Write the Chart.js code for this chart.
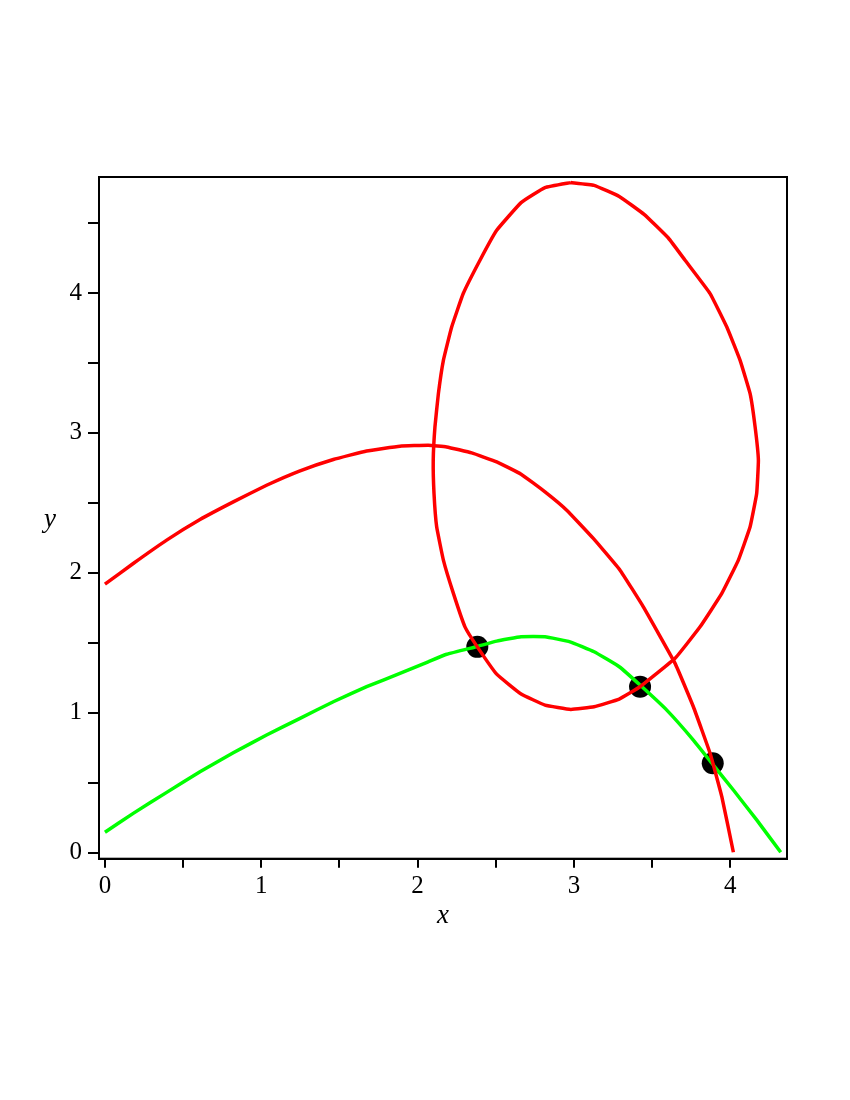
<!DOCTYPE html>
<html>
<head>
<meta charset="utf-8">
<script src="https://cdn.jsdelivr.net/npm/chart.js@4.4.1/dist/chart.umd.min.js"></script>
<style>
  html, body { margin: 0; padding: 0; background: #fff; }
</style>
</head>
<body>
<canvas id="myChart" width="850" height="1100"></canvas>
<script>
// open red curve
var redArcX = [0, 0.181, 0.395, 0.608, 0.821, 1.034, 1.248, 1.461, 1.674, 1.887, 2.068, 2.186, 2.346, 2.506, 2.662, 2.815, 2.954, 3.124, 3.295, 3.444, 3.647, 3.764, 3.871, 3.946, 4.02];
var redArcY = [1.919, 2.067, 2.234, 2.381, 2.507, 2.626, 2.729, 2.81, 2.871, 2.905, 2.912, 2.9, 2.857, 2.793, 2.705, 2.579, 2.448, 2.246, 2.019, 1.757, 1.353, 1.043, 0.71, 0.4, 0.003];

// closed red loop (clockwise from the top)
var loopX = [2.98, 3.129, 3.29, 3.449, 3.604, 3.711, 3.871, 3.978, 4.063, 4.127, 4.159, 4.18, 4.169, 4.127, 4.052, 3.946, 3.807, 3.647, 3.423, 3.29, 3.129, 2.98, 2.815, 2.662, 2.506, 2.382, 2.303, 2.229, 2.165, 2.122, 2.105, 2.1, 2.111, 2.133, 2.165, 2.218, 2.292, 2.399, 2.506, 2.662, 2.815, 2.98];
var loopY = [4.789, 4.769, 4.69, 4.562, 4.393, 4.234, 3.996, 3.757, 3.519, 3.281, 3.043, 2.805, 2.567, 2.329, 2.091, 1.853, 1.614, 1.389, 1.186, 1.098, 1.043, 1.024, 1.055, 1.134, 1.276, 1.471, 1.614, 1.853, 2.091, 2.329, 2.567, 2.805, 3.043, 3.281, 3.519, 3.757, 3.996, 4.234, 4.448, 4.646, 4.753, 4.789];

// green curve
var greenX = [0, 0.181, 0.395, 0.608, 0.821, 1.034, 1.248, 1.461, 1.674, 1.887, 2.068, 2.186, 2.382, 2.506, 2.662, 2.815, 2.975, 3.129, 3.29, 3.423, 3.594, 3.764, 3.892, 4.02, 4.169, 4.323];
var greenY = [0.146, 0.281, 0.431, 0.579, 0.714, 0.841, 0.96, 1.079, 1.186, 1.281, 1.364, 1.418, 1.474, 1.512, 1.543, 1.543, 1.507, 1.436, 1.329, 1.198, 1.019, 0.805, 0.626, 0.448, 0.234, 0.003];

// intersection points
var dotX = [2.382, 3.423, 3.888];
var dotY = [1.471, 1.186, 0.639];

var xTickLabels = ['0', '1', '2', '3', '4'];
var yTickLabels = ['0', '1', '2', '3', '4'];

function pts(xs, ys) {
    return xs.map(function (x, i) { return { x: x, y: ys[i] }; });
}

var serif = "'Liberation Serif', 'Times New Roman', serif";

var frame = {
    id: 'frame',
    afterDraw: function (chart) {
        var a = chart.chartArea, c = chart.ctx;
        c.save();
        c.strokeStyle = '#000';
        c.lineWidth = 2;
        c.strokeRect(a.left, a.top, a.right - a.left, a.bottom - a.top);
        // upright y axis label
        c.fillStyle = '#000';
        c.font = 'italic 27px ' + serif;
        c.textAlign = 'center';
        c.textBaseline = 'alphabetic';
        c.fillText('y', 50, 527);
        c.restore();
    }
};

function curve(points, color) {
    return {
        data: points,
        showLine: true,
        borderColor: color,
        borderWidth: 3.5,
        pointRadius: 0,
        pointHoverRadius: 0,
        tension: 0.1
    };
}

var ctx = document.getElementById('myChart').getContext('2d');
var myChart = new Chart(ctx, {
    type: 'scatter',
    data: {
        datasets: [
            curve(pts(redArcX, redArcY), '#ff0000'),
            curve(pts(loopX, loopY), '#ff0000'),
            curve(pts(greenX, greenY), '#00ff00'),
            {
                data: pts(dotX, dotY),
                showLine: false,
                backgroundColor: '#000',
                borderWidth: 0,
                pointRadius: 11,
                pointHoverRadius: 11
            }
        ]
    },
    options: {
        responsive: false,
        animation: false,
        layout: { padding: { top: 177, right: 63, left: 0, bottom: 167.9 } },
        plugins: { legend: { display: false }, tooltip: { enabled: false } },
        scales: {
            x: {
                type: 'linear',
                min: -0.038,
                max: 4.363,
                afterFit: function (s) { s.height = 73.4; },
                border: { display: true, color: '#000', width: 2 },
                grid: { drawOnChartArea: false, drawTicks: true, tickLength: 9, color: '#000', lineWidth: 2 },
                ticks: {
                    stepSize: 0.5,
                    includeBounds: false,
                    autoSkip: false,
                    maxRotation: 0,
                    padding: 4,
                    color: '#000',
                    font: { family: serif, size: 25 },
                    callback: function (v) {
                        return Number.isInteger(v) ? xTickLabels[v] : '';
                    }
                },
                title: {
                    display: true,
                    text: 'x',
                    color: '#000',
                    padding: 0,
                    font: { family: serif, size: 27, style: 'italic' }
                }
            },
            y: {
                type: 'linear',
                min: -0.043,
                max: 4.829,
                afterFit: function (s) { s.width = 99; },
                border: { display: true, color: '#000', width: 2 },
                grid: { drawOnChartArea: false, drawTicks: true, tickLength: 11, color: '#000', lineWidth: 2 },
                ticks: {
                    stepSize: 0.5,
                    includeBounds: false,
                    autoSkip: false,
                    padding: 6,
                    color: '#000',
                    font: { family: serif, size: 25 },
                    callback: function (v) {
                        return Number.isInteger(v) ? yTickLabels[v] : '';
                    }
                }
            }
        }
    },
    plugins: [frame]
});
</script>
</body>
</html>
